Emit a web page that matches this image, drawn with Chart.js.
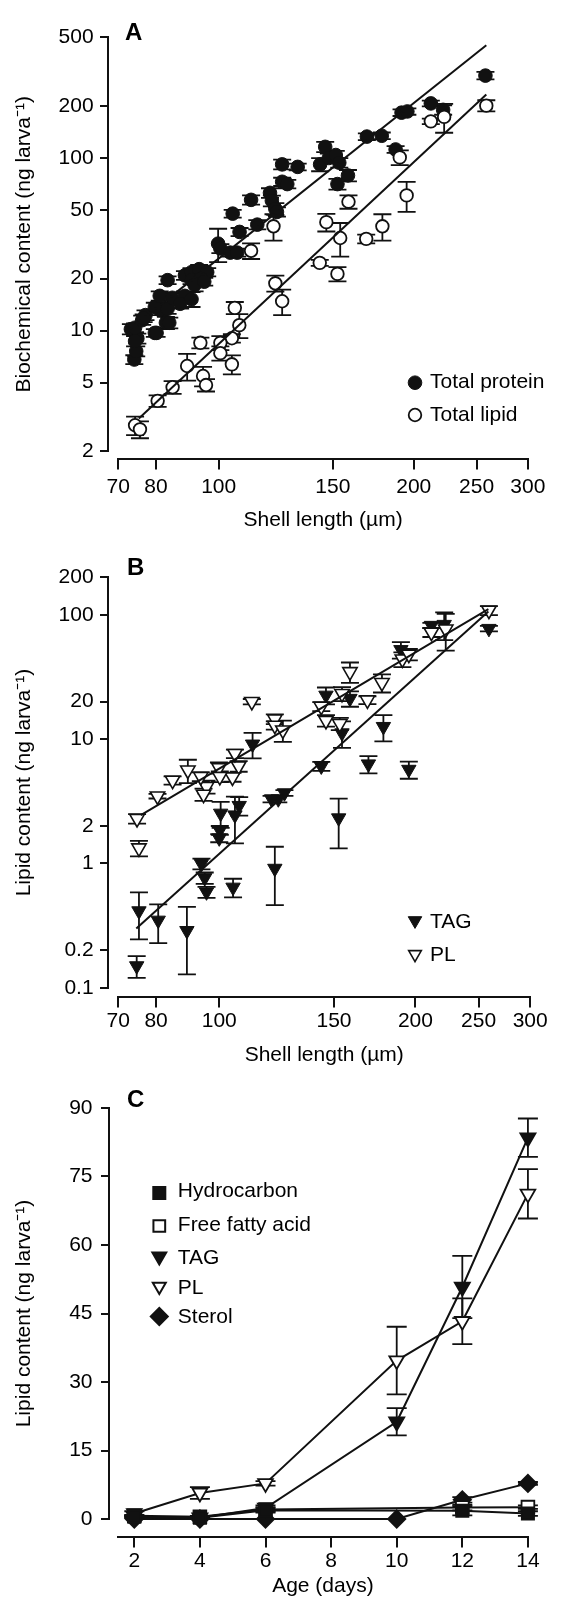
<!DOCTYPE html>
<html><head><meta charset="utf-8">
<script src="https://cdn.jsdelivr.net/npm/chart.js@4/dist/chart.umd.min.js"></script>
<style>
html,body{margin:0;padding:0;background:#fff;}
body{width:569px;height:1597px;position:relative;overflow:hidden;}
canvas{position:absolute;left:0;display:block;}
</style></head><body>
<canvas id="ca" width="569" height="540" style="top:0px"></canvas>
<canvas id="cb" width="569" height="530" style="top:540px"></canvas>
<canvas id="cc" width="569" height="527" style="top:1070px"></canvas>
<script>
// ---------- Panel A data ----------
const shellTicks = [70, 80, 100, 150, 200, 250, 300];
const biochemTicks = [2, 5, 10, 20, 50, 100, 200, 500];
const proteinLength = [73.2,74.1,74.6,74.9,74.3,74.3,76.2,77.1,76.6,79.7,80.2,82.9,83.9,81.1,79.7,83.4,81.1,84.8,88.7,87.2,90.8,83.4,88.7,90.8,93.3,96.0,90.8,93.9,91.8,95.0,99.8,100.6,104.2,106.8,105.1,107.7,112.2,114.7,120.0,120.8,122.3,123.0,125.3,132.4,125.3,127.6,143.4,146.0,147.9,151.6,153.5,158.3,152.5,169.3,178.5,187.5,191.5,195.5,212.5,222.0,258.0];
const proteinContent = [10.2,6.8,7.6,9.0,8.7,10.4,11.5,12.3,11.8,9.7,9.7,11.1,11.1,13.2,13.7,13.4,15.9,15.5,15.9,14.3,15.2,19.6,20.9,21.8,22.7,21.8,19.6,20.0,18.4,19.2,31.9,29.9,28.3,28.3,47.6,37.3,57.2,41.1,62.8,56.5,50.8,48.7,91.8,88.8,72.8,70.6,91.8,116,100,104,93.9,79.2,70.6,133,134.5,112,183,186,207,190,300];
const proteinSE = [0.7,0.4,0.5,0.6,0.6,0.6,0.7,0.8,0.6,0.5,0.5,0.9,0.8,0.9,0.8,0.9,1.0,1.0,1.0,0.9,1.5,1.0,1.2,1.2,1.3,1.2,1.0,1.0,1.5,1.0,7.0,1.8,1.5,1.5,2.5,2.0,3.5,2.5,4,4,4,3,6,4,4,4,8,8,6,6,6,6,5,6,6,5,8,8,8,12,15];
const lipidLength = [258.8,212.5,222.8,190.3,195.0,178.9,168.9,158.6,154.0,146.6,152.5,143.2,121.5,112.2,122.3,125.3,105.9,107.6,104.8,100.6,100.6,104.8,93.7,94.6,95.6,89.4,84.9,80.5,74.3,75.6];
const lipidContent = [201,163,173,100.8,60.7,40.2,34.0,55.8,34.4,42.5,21.3,24.7,40.2,29.0,18.8,14.8,13.55,10.75,9.03,8.5,7.4,6.38,8.5,5.46,4.84,6.24,4.7,3.92,2.83,2.68];
const lipidSE = [15,6,33,10,12,7,2,5,7.6,5,2,1,7,3,2,2.5,1.1,1.7,0.5,0.8,0.7,0.8,0.6,0.7,0.4,1.1,0.4,0.3,0.35,0.3];
const proteinFitLength = [73.0, 258.8];
const proteinFitContent = [10.2, 450];
const lipidFitLength = [75.3, 258.8];
const lipidFitContent = [3.1, 233];

// ---------- Panel B data ----------
const lipidTicksB = [0.1, 0.2, 1, 2, 10, 20, 100, 200];
const tagLength = [259.3,211.6,221.4,190.0,158.7,145.8,154.3,178.6,143.4,169.4,195.4,125.9,123.2,120.3,152.5,112.5,107.3,105.7,100.5,100.2,100.0,93.9,95.0,95.6,105.0,121.7,75.3,80.6,89.2,74.7];
const tagContent = [77.4,81.9,83.4,52.3,21.2,22.5,11.2,12.6,6.06,6.3,5.7,3.69,3.3,3.3,2.32,9.1,2.92,2.45,2.53,1.85,1.6,0.995,0.766,0.589,0.643,0.912,0.415,0.349,0.288,0.150];
const tagSE = [4,4,21,8,3,3.5,2.7,3,0.5,1,0.9,0.2,0.2,0.2,1.0,2.1,0.5,1.0,0.6,0.15,0.12,0.1,0.08,0.06,0.11,0.45,0.17,0.12,0.16,0.03];
const plLength = [259.3,211.6,222.6,191.0,195.4,158.7,177.7,168.8,154.3,143.4,145.8,153.1,112.2,121.7,121.7,125.2,107.1,105.7,104.8,99.9,100.2,95.6,94.6,93.7,89.5,84.8,80.4,74.8,75.3];
const plContent = [108.4,72.2,76.5,43.9,48.0,34.8,28.4,20.6,23.2,18.3,14.1,13.3,20.0,14.5,12.9,11.8,6.06,7.64,4.94,5.88,5.0,4.14,3.59,5.0,5.62,4.66,3.48,2.29,1.33];
const plSE = [9,6,25,6,5,6.5,4.7,1.5,3,1.5,1.5,1.5,1.0,1.3,1.0,2.3,0.6,0.6,0.4,0.6,0.5,0.5,0.4,0.4,1.2,0.35,0.15,0.2,0.19];
const plFitLength = [75.8, 258.8];
const plFitContent = [2.45, 111];
const tagFitLength = [74.6, 258.8];
const tagFitContent = [0.30, 106];

// ---------- Panel C data ----------
const ageTicks = [2, 4, 6, 8, 10, 12, 14];
const contentTicksC = [0, 15, 30, 45, 60, 75, 90];
const ageDays = [2, 4, 6, 10, 12, 14];
const hydrocarbon = [0.5, 0.3, 1.9, null, 1.8, 1.2];
const hydrocarbonSE = [0.2, 0.2, 0.5, null, 1.0, 0.5];
const freeFattyAcid = [0.7, 0.5, 2.1, null, 2.5, 2.6];
const freeFattyAcidSE = [0.2, 0.2, 0.5, null, 0.6, 0.4];
const tagAge = [0.5, 0.3, 2.4, 21.3, 50.8, 83.5];
const tagAgeSE = [0.3, 0.2, 0.6, 3.0, 6.8, 4.2];
const plAge = [1.2, 5.7, 7.8, 34.7, 43.3, 71.2];
const plAgeSE = [0.5, 1.3, 0.5, 7.4, 5.0, 5.4];
const sterol = [0, 0, 0, 0, 4.2, 7.8];
const sterolSE = [0, 0, 0, 0, 0.6, 0.3];

// ---------- helpers ----------
const FONT = "'Liberation Sans', Arial, Helvetica, sans-serif";
const BLACK = '#111';
Chart.defaults.font.family = FONT;
Chart.defaults.font.size = 21;
Chart.defaults.color = '#000';

function xy(xs, ys) { return xs.map((x, i) => ({ x: x, y: ys[i] })); }
function fixTicks(values) { return function (scale) { scale.ticks = values.map(v => ({ value: v })); }; }

const errorBars = {
  id: 'errorBars',
  beforeDatasetsDraw(chart, args, opts) {
    const ctx = chart.ctx;
    const cap = opts.cap || 9;
    chart.data.datasets.forEach((ds, i) => {
      if (!ds.errors) return;
      const meta = chart.getDatasetMeta(i);
      const ys = chart.scales[meta.yAxisID];
      ctx.save();
      ctx.strokeStyle = BLACK;
      ctx.lineWidth = opts.width || 1.8;
      ctx.beginPath();
      meta.data.forEach((el, j) => {
        const d = ds.data[j], e = ds.errors[j];
        if (!d || d.y == null || !e) return;
        let lo = d.y - e;
        if (ys.type === 'logarithmic' && lo <= 0) lo = d.y * 0.05;
        const pt = ys.getPixelForValue(d.y + e), pb = ys.getPixelForValue(lo);
        const x = el.x;
        ctx.moveTo(x, pt); ctx.lineTo(x, pb);
        ctx.moveTo(x - cap, pt); ctx.lineTo(x + cap, pt);
        ctx.moveTo(x - cap, pb); ctx.lineTo(x + cap, pb);
      });
      ctx.stroke();
      ctx.restore();
    });
  }
};

function marker(ctx, style, r, rot, bw, x, y) {
  if (Chart.helpers && Chart.helpers.drawPoint) {
    Chart.helpers.drawPoint(ctx, { pointStyle: style, radius: r, rotation: rot || 0, borderWidth: bw }, x, y);
  } else {
    ctx.beginPath(); ctx.arc(x, y, r, 0, Math.PI * 2); ctx.fill(); if (bw) ctx.stroke();
  }
}

const axesDeco = {
  id: 'axesDeco',
  afterDraw(chart, args, o) {
    const ctx = chart.ctx, a = chart.chartArea, xs = chart.scales.x, ys = chart.scales.y;
    ctx.save();
    ctx.strokeStyle = BLACK; ctx.lineWidth = 2;
    ctx.beginPath();
    const ax = Math.round(a.left - o.yGap);
    ctx.moveTo(ax, Math.round(a.top) - 1); ctx.lineTo(ax, Math.round(a.bottom) + 1);
    ys.ticks.forEach(t => { const p = Math.round(ys.getPixelForValue(t.value)); ctx.moveTo(ax - o.yTick, p); ctx.lineTo(ax, p); });
    const ay = Math.round(a.bottom + o.xGap);
    ctx.moveTo(Math.round(a.left) - 1, ay); ctx.lineTo(Math.round(a.right) + 1, ay);
    xs.ticks.forEach(t => { const p = Math.round(xs.getPixelForValue(t.value)); ctx.moveTo(p, ay); ctx.lineTo(p, ay + o.xTick); });
    ctx.stroke();
    // panel letter
    ctx.fillStyle = '#000';
    ctx.font = 'bold 24px ' + FONT;
    ctx.textAlign = 'left'; ctx.textBaseline = 'alphabetic';
    ctx.fillText(o.letter, o.letterX, o.letterY);
    // legend
    ctx.font = '21px ' + FONT;
    ctx.textBaseline = 'middle';
    chart.data.datasets.forEach(ds => {
      if (ds.legendY == null) return;
      ctx.fillStyle = ds.backgroundColor; ctx.strokeStyle = BLACK; ctx.lineWidth = ds.borderWidth;
      marker(ctx, ds.pointStyle, ds.legendRadius || ds.pointRadius, ds.pointRotation, ds.borderWidth, o.markerX, ds.legendY);
      ctx.fillStyle = '#000';
      ctx.fillText(ds.label, o.textX, ds.legendTextY != null ? ds.legendTextY : ds.legendY);
    });
    ctx.restore();
  }
};

function scatterSet(label, xs, ys, errs, style, extra) {
  return Object.assign({
    label: label, data: xy(xs, ys), errors: errs, showLine: false, clip: false,
    pointStyle: style, borderColor: BLACK
  }, extra);
}
function fitSet(xs, ys) {
  return { label: 'fit', data: xy(xs, ys), showLine: true, pointRadius: 0, borderColor: BLACK, borderWidth: 2, fill: false, clip: false };
}
function baseOptions(p) {
  return {
    responsive: false, animation: false, events: [],
    layout: { padding: { left: 0, top: p.top, right: p.right, bottom: 0 } },
    plugins: {
      legend: { display: false }, tooltip: { enabled: false },
      errorBars: { cap: p.cap, width: 1.8 },
      axesDeco: p.deco
    },
    scales: {
      x: {
        type: p.xType, min: p.xMin, max: p.xMax,
        afterBuildTicks: fixTicks(p.xTicks),
        afterFit: s => { s.height = p.xHeight; },
        grid: { display: false, drawTicks: false }, border: { display: false },
        ticks: { padding: p.xPad, maxRotation: 0, minRotation: 0, autoSkip: false, callback: v => String(v) },
        title: { display: true, text: p.xTitle, font: { size: 21, lineHeight: 1 }, padding: { top: 0, bottom: p.xTitlePad } }
      },
      y: {
        type: p.yType, min: p.yMin, max: p.yMax,
        afterBuildTicks: fixTicks(p.yTicks),
        afterFit: s => { s.width = p.yWidth; },
        grid: { display: false, drawTicks: false }, border: { display: false },
        ticks: { padding: p.yPad, autoSkip: false, callback: v => String(v) },
        title: { display: true, text: p.yTitle, font: { size: 21, lineHeight: 1 }, padding: { top: 14, bottom: 0 } }
      }
    }
  };
}

// ---------- Panel A ----------
new Chart(document.getElementById('ca'), {
  type: 'scatter',
  data: { datasets: [
    fitSet(proteinFitLength, proteinFitContent),
    fitSet(lipidFitLength, lipidFitContent),
    scatterSet('Total lipid', lipidLength, lipidContent, lipidSE, 'circle',
      { pointRadius: 6.3, backgroundColor: '#fff', borderWidth: 1.8, legendY: 415 }),
    scatterSet('Total protein', proteinLength, proteinContent, proteinSE, 'circle',
      { pointRadius: 6.8, backgroundColor: BLACK, borderWidth: 1, legendY: 382.7 })
  ]},
  options: baseOptions({
    top: 16.6, right: 21, cap: 9,
    xType: 'logarithmic', xMin: 70, xMax: 300, xTicks: shellTicks, xHeight: 88.7, xPad: 23.6,
    xTitle: 'Shell length (µm)', xTitlePad: 9.5,
    yType: 'logarithmic', yMin: 2, yMax: 500, yTicks: biochemTicks, yWidth: 118.3, yPad: 24.7,
    yTitle: 'Biochemical content (ng larva⁻¹)',
    deco: { yGap: 10, xGap: 8, yTick: 8, xTick: 10.5, letter: 'A', letterX: 125, letterY: 39.5, markerX: 415, textX: 430 }
  }),
  plugins: [errorBars, axesDeco]
});

// ---------- Panel B ----------
new Chart(document.getElementById('cb'), {
  type: 'scatter',
  data: { datasets: [
    fitSet(plFitLength, plFitContent),
    fitSet(tagFitLength, tagFitContent),
    scatterSet('PL', plLength, plContent, plSE, 'triangle',
      { pointRadius: 8.3, pointRotation: 180, backgroundColor: '#fff', borderWidth: 1.6, legendY: 414.3, legendTextY: 415.5, legendRadius: 7.3 }),
    scatterSet('TAG', tagLength, tagContent, tagSE, 'triangle',
      { pointRadius: 8.3, pointRotation: 180, backgroundColor: BLACK, borderWidth: 1, legendY: 380.6, legendTextY: 382, legendRadius: 7.8 })
  ]},
  options: baseOptions({
    top: 15.3, right: 21, cap: 9,
    xType: 'logarithmic', xMin: 70, xMax: 300, xTicks: shellTicks, xHeight: 82.2, xPad: 21.3,
    xTitle: 'Shell length (µm)', xTitlePad: 4.5,
    yType: 'logarithmic', yMin: 0.1, yMax: 200, yTicks: lipidTicksB, yWidth: 118.3, yPad: 24.7,
    yTitle: 'Lipid content (ng larva⁻¹)',
    deco: { yGap: 10, xGap: 8.7, yTick: 8, xTick: 10.5, letter: 'B', letterX: 127, letterY: 35, markerX: 415, textX: 430 }
  }),
  plugins: [errorBars, axesDeco]
});

// ---------- Panel C ----------
function lineSet(label, ys, errs, style, extra) {
  return Object.assign({
    label: label, data: xy(ageDays, ys), errors: errs, showLine: true, spanGaps: true, clip: false,
    pointStyle: style, borderColor: BLACK, borderWidth: 2, fill: false
  }, extra);
}
new Chart(document.getElementById('cc'), {
  type: 'scatter',
  data: { datasets: [
    lineSet('Hydrocarbon', hydrocarbon, hydrocarbonSE, 'rect', { pointRadius: 8.5, backgroundColor: BLACK, legendY: 123, legendTextY: 121.7, legendRadius: 8.5 }),
    lineSet('Free fatty acid', freeFattyAcid, freeFattyAcidSE, 'rect', { pointRadius: 9, backgroundColor: '#fff', pointBorderWidth: 1.8, legendY: 156, legendTextY: 155.7, legendRadius: 8.3 }),
    lineSet('TAG', tagAge, tagAgeSE, 'triangle', { pointRadius: 8.5, pointRotation: 180, backgroundColor: BLACK, legendY: 186.5, legendTextY: 188.3, legendRadius: 8 }),
    lineSet('PL', plAge, plAgeSE, 'triangle', { pointRadius: 8.5, pointRotation: 180, backgroundColor: '#fff', pointBorderWidth: 1.8, legendY: 216.5, legendTextY: 218.3, legendRadius: 7.5 }),
    lineSet('Sterol', sterol, sterolSE, 'rectRot', { pointRadius: 8.5, backgroundColor: BLACK, legendY: 246.5, legendTextY: 247.5, legendRadius: 8.5 })
  ]},
  options: baseOptions({
    top: 17, right: 19, cap: 10,
    xType: 'linear', xMin: 1.5, xMax: 14, xTicks: ageTicks, xHeight: 78, xPad: 29.4,
    xTitle: 'Age (days)', xTitlePad: 0,
    yType: 'linear', yMin: 0, yMax: 90, yTicks: contentTicksC, yWidth: 117.9, yPad: 25.4,
    yTitle: 'Lipid content (ng larva⁻¹)',
    deco: { yGap: 9.1, xGap: 17.7, yTick: 8, xTick: 10.5, letter: 'C', letterX: 127, letterY: 36.5, markerX: 159.3, textX: 177.8 }
  }),
  plugins: [errorBars, axesDeco]
});
</script>
</body></html>
